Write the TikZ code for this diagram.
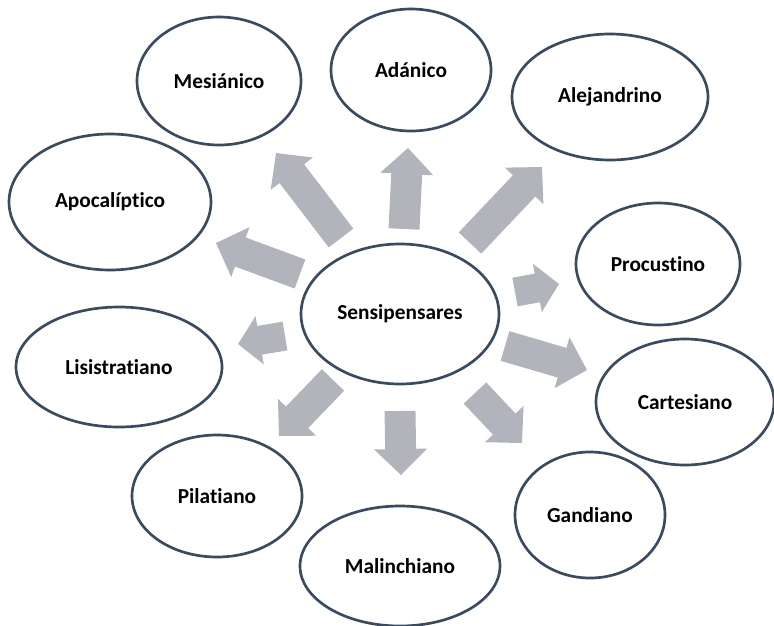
\documentclass[tikz,border=0pt]{standalone}
\usepackage{fontspec}
\setmainfont{Carlito}[Ligatures=CommonOff]
\usetikzlibrary{shapes.geometric,calc}
\usepackage{xcolor}
\definecolor{linea}{HTML}{3B4B5F}
\definecolor{gris}{HTML}{B1B4BB}
% block arrow: tail, tip, half shaft, half head, head length
\newcommand{\flecha}[5]{%
  \coordinate (fh) at ($(#2)!#5!(#1)$);
  \fill[gris] ($(#1)!#3!90:(#2)$) -- ($(fh)!#3!90:(#2)$) -- ($(fh)!#4!90:(#2)$) -- (#2)
    -- ($(fh)!#4!-90:(#2)$) -- ($(fh)!#3!-90:(#2)$) -- ($(#1)!#3!-90:(#2)$) -- cycle;}
\begin{document}
\begin{tikzpicture}[x=0.75pt,y=-0.75pt,
		globo/.style={ellipse, draw=linea, line width=2pt, fill=white, inner sep=0pt,
			font=\fontsize{16}{19}\selectfont\bfseries}]
			\useasboundingbox (0,0) rectangle (774,625);
			\node[globo, minimum width=148.5pt, minimum height=105pt] (sen) at (400,314) {Sensipensares};
			\node[globo, minimum width=123pt, minimum height=96pt] (mes) at (219,81) {Mesiánico};
			\node[globo, minimum width=120pt, minimum height=91.5pt] (ada) at (411,70) {Adánico};
			\node[globo, minimum width=147pt, minimum height=94.5pt] (ale) at (610,97) {Alejandrino};
			\node[globo, minimum width=151.5pt, minimum height=102pt] (apo) at (110,202) {Apocalíptico};
			\node[globo, minimum width=123pt, minimum height=91.5pt] (pro) at (658,264) {Procustino};
			\node[globo, minimum width=154.5pt, minimum height=90pt] (lis) at (119,367) {Lisistratiano};
			\node[globo, minimum width=133.5pt, minimum height=94.5pt] (car) at (685,402) {Cartesiano};
			\node[globo, minimum width=127.5pt, minimum height=91.5pt] (pil) at (217,496) {Pilatiano};
			\node[globo, minimum width=112.5pt, minimum height=94.5pt] (gan) at (590,515) {Gandiano};
			\node[globo, minimum width=150pt, minimum height=90pt] (mal) at (400,566) {Malinchiano};
			% arrow ends
			\coordinate (mes-a) at (341,238); \coordinate (mes-b) at (276,153);
			\coordinate (ada-a) at (404,229); \coordinate (ada-b) at (408,148);
			\coordinate (ale-a) at (470,243); \coordinate (ale-b) at (542,167);
			\coordinate (apo-a) at (300,274); \coordinate (apo-b) at (216,243);
			\coordinate (pro-a) at (515,292); \coordinate (pro-b) at (559,284);
			\coordinate (lis-a) at (285,336); \coordinate (lis-b) at (238,344);
			\coordinate (car-a) at (505,346); \coordinate (car-b) at (587,370);
			\coordinate (gan-a) at (475,393); \coordinate (gan-b) at (522,443);
			\coordinate (mal-a) at (400,411); \coordinate (mal-b) at (401,475);
			\coordinate (pil-a) at (333,380); \coordinate (pil-b) at (279,436);
			\foreach \n in {mes,ada,ale,apo,car,gan,mal,pil}{
				\flecha{\n-a}{\n-b}{11.6pt}{19.9pt}{19.5pt}
			}
			\foreach \n in {pro,lis}{
				\flecha{\n-a}{\n-b}{10.9pt}{18.4pt}{16.5pt}
			}
		\end{tikzpicture}
\end{document}
